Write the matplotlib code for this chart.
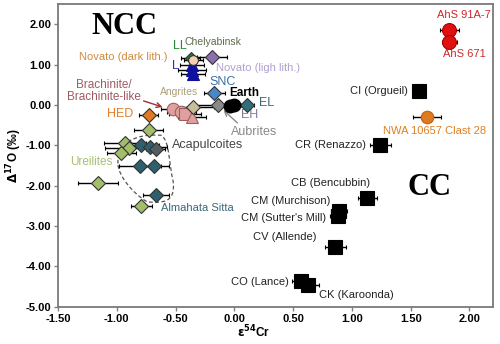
import numpy as np
import matplotlib.pyplot as plt
from matplotlib.path import Path
from matplotlib.patches import PathPatch

# ---- data ----
# carbonaceous chondrites (black squares)
cc_names = ['CI (Orgueil)', 'CR (Renazzo)', 'CB (Bencubbin)', 'CM (Murchison)',
            "CM (Sutter's Mill)", 'CV (Allende)', 'CO (Lance)', 'CK (Karoonda)']
cc_x = [1.57, 1.24, 1.13, 0.89, 0.88, 0.86, 0.57, 0.63]
cc_y = [0.35, -0.98, -2.31, -2.62, -2.76, -3.52, -4.35, -4.47]
cc_err = [0.05, 0.09, 0.08, 0.07, 0.07, 0.09, 0.08, 0.09]

# Almahata Sitta anomalous clasts
ahs_x = [1.83, 1.83]
ahs_y = [1.87, 1.56]
ahs_err = [0.08, 0.06]
nwa_x, nwa_y, nwa_err = [1.64], [-0.29], [0.12]

# non-carbonaceous groups
ureil_x = [-0.93, -0.90, -0.96, -1.16, -0.79, -0.73]
ureil_y = [-0.93, -1.06, -1.20, -1.92, -2.51, -0.62]
ureil_err = [0.18, 0.2, 0.12, 0.17, 0.09, 0.12]
almah_x = [-0.79, -0.72, -0.80, -0.68, -0.67]
almah_y = [-0.98, -1.05, -1.52, -1.52, -2.23]
almah_err = [0.15, 0.15, 0.18, 0.12, 0.11]
acap_x, acap_y, acap_err = [-0.67], [-1.08], [0.08]
hed_x, hed_y, hed_err = [-0.73], [-0.24], [0.08]
brach_x = [-0.52, -0.45, -0.42, -0.36]
brach_y = [-0.10, -0.18, -0.22, -0.30]
brach_m = ['o', 'o', 's', '^']
brach_err = [0.1, 0.12, 0.14, 0.12]
angr_x, angr_y, angr_err = [-0.35], [-0.06], [0.18]
aubr_x, aubr_y, aubr_err = [-0.14], [0.0], [0.2]
earth_x, earth_y = [0.0, -0.04], [0.0, -0.03]
eh_x, eh_y, eh_err = [0.11], [0.0], [0.06]
snc_x, snc_y, snc_err = [-0.17], [0.30], [0.09]
chel_x, chel_y, chel_err = [-0.19], [1.18], [0.13]
ll_x, ll_y = [-0.37], [1.16]
nov_x, nov_y = [-0.35], [1.11]
l_x = [-0.36, -0.36, -0.35]
l_y = [1.00, 0.87, 0.76]
l_err = [0.1, 0.12, 0.1]

x_ticks = [-1.5, -1.0, -0.5, 0.0, 0.5, 1.0, 1.5, 2.0]
y_ticks = [-5, -4, -3, -2, -1, 0, 1, 2]

plt.rc('font', family='Liberation Sans', weight='normal')

fig = plt.figure(figsize=(5.0, 3.44), dpi=100)
ax = fig.add_axes([0.116, 0.108, 0.87, 0.88])

ebk = dict(ecolor='black', elinewidth=1.0, capsize=1.5, capthick=1.0, linestyle='none', zorder=3)

def grp(x, y, err, color, marker='D', ms=7.5, mec='#333333'):
    ax.errorbar(x, y, xerr=err, fmt=marker, mfc=color, mec=mec, mew=0.8, ms=ms, **ebk)

# dashed outline round the Almahata Sitta clasts
verts = [(-0.99, -1.45), (-1.0, -0.95), (-0.85, -0.70), (-0.62, -0.75),
         (-0.55, -0.9), (-0.56, -1.4), (-0.52, -1.9), (-0.50, -2.45),
         (-0.62, -2.42), (-0.74, -2.4), (-0.86, -2.2), (-0.99, -1.75), (-0.99, -1.45)]
codes = [Path.MOVETO] + [Path.CURVE4] * 12
ax.add_patch(PathPatch(Path(verts, codes), fill=False, ls=(0, (3, 2)), lw=0.9,
                       ec='#555555', zorder=1))

grp(ureil_x, ureil_y, ureil_err, '#a3be6b')
grp(almah_x, almah_y, almah_err, '#2f5f6e')
grp(acap_x, acap_y, acap_err, '#555c60')
grp(hed_x, hed_y, hed_err, '#e07a20')
for bx, by, bm, be in zip(brach_x, brach_y, brach_m, brach_err):
    grp([bx], [by], [be], '#e0a0a0', marker=bm, ms=9, mec='#a06060')
grp(angr_x, angr_y, angr_err, '#c8bf9a')
grp(aubr_x, aubr_y, aubr_err, '#8a8a8a')
grp(eh_x, eh_y, eh_err, '#2f6f78')
ax.plot(earth_x, earth_y, 'o', color='black', ms=9, zorder=4)
grp(snc_x, snc_y, snc_err, '#4a86c8')
grp(l_x, l_y, l_err, '#1010a0', marker='^', ms=8, mec='#1010a0')
grp(ll_x, ll_y, [0.08], '#2a7a40', marker='D', ms=6)
grp(nov_x, nov_y, [0.08], '#f4d0b0', marker='o', ms=7)
grp(chel_x, chel_y, chel_err, '#8a70b0')

grp(cc_x, cc_y, cc_err, 'black', marker='s', ms=10, mec='black')
grp(ahs_x, ahs_y, ahs_err, '#e01010', marker='o', ms=10, mec='#b00000')
grp(nwa_x, nwa_y, nwa_err, '#e07a20', marker='o', ms=9, mec='#c06010')

# labels
fs = 8
ax.text(-1.22, 1.95, 'NCC', family='Liberation Serif', weight='bold', fontsize=22, va='center')
ax.text(1.47, -2.05, 'CC', family='Liberation Serif', weight='bold', fontsize=22, va='center')
ax.text(1.95, 2.22, 'AhS 91A-7', color='#d02828', fontsize=fs, ha='center', va='center')
ax.text(1.96, 1.26, 'AhS 671', color='#d02828', fontsize=fs, ha='center', va='center')
ax.text(1.48, 0.35, 'CI (Orgueil)', color='#222222', fontsize=fs, ha='right', va='center')
ax.text(1.70, -0.64, 'NWA 10657 Clast 28', color='#e08020', fontsize=fs, ha='center', va='center')
ax.text(1.12, -0.98, 'CR (Renazzo)', color='#222222', fontsize=fs, ha='right', va='center')
ax.text(0.82, -1.92, 'CB (Bencubbin)', color='#222222', fontsize=fs, ha='center', va='center')
ax.text(0.82, -2.38, 'CM (Murchison)', color='#222222', fontsize=fs, ha='right', va='center')
ax.text(0.78, -2.80, "CM (Sutter's Mill)", color='#222222', fontsize=fs, ha='right', va='center')
ax.text(0.70, -3.27, 'CV (Allende)', color='#222222', fontsize=fs, ha='right', va='center')
ax.text(0.46, -4.38, 'CO (Lance)', color='#222222', fontsize=fs, ha='right', va='center')
ax.text(0.72, -4.70, 'CK (Karoonda)', color='#222222', fontsize=fs, ha='left', va='center')

ax.text(-0.52, 1.47, 'LL', color='#2a8a3a', fontsize=9, ha='left', va='center')
ax.text(-0.42, 1.55, 'Chelyabinsk', color='#5b6b4b', fontsize=7.5, ha='left', va='center')
ax.text(-0.57, 1.19, 'Novato (dark lith.)', color='#d08a40', fontsize=8, ha='right', va='center')
ax.text(-0.53, 0.97, 'L', color='#3030b0', fontsize=9, ha='left', va='center')
ax.text(-0.16, 0.92, 'Novato (ligh lith.)', color='#b0a0d0', fontsize=8, ha='left', va='center')
ax.text(-0.21, 0.58, 'SNC', color='#3a70a8', fontsize=9, ha='left', va='center')
ax.text(-0.47, 0.32, 'Angrites', color='#aaa07a', fontsize=7.5, ha='center', va='center')
ax.text(-0.04, 0.30, 'Earth', color='black', fontsize=8.5, weight='bold', ha='left', va='center')
ax.text(0.21, 0.04, 'EL', color='#3a6a78', fontsize=9, ha='left', va='center')
ax.text(0.06, -0.24, 'EH', color='#8a7a9a', fontsize=9, ha='left', va='center')
ax.annotate('Aubrites', xy=(-0.11, -0.08), xytext=(0.17, -0.66), color='#8a8a8a',
            fontsize=9, ha='center', va='center',
            arrowprops=dict(arrowstyle='->', color='#8a8a8a', lw=1, shrinkA=0, shrinkB=2,
                            relpos=(0.2, 1.0)))
ax.annotate('Brachinite/\nBrachinite-like', xy=(-0.6, -0.06), xytext=(-1.11, 0.35),
            color='#a05a64', fontsize=8.5, ha='center', va='center', linespacing=1.0,
            arrowprops=dict(arrowstyle='->', color='#a03030', lw=1, shrinkA=0, shrinkB=1,
                            relpos=(0.97, 0.15)))
ax.text(-0.86, -0.22, 'HED', color='#e0802a', fontsize=9, ha='right', va='center')
ax.text(-0.53, -0.98, 'Acapulcoites', color='#444444', fontsize=9, ha='left', va='center')
ax.text(-1.22, -1.42, 'Ureilites', color='#a8c070', fontsize=8.5, ha='center', va='center')
ax.text(-0.62, -2.56, 'Almahata Sitta', color='#3a6a7a', fontsize=8, ha='left', va='center')

ax.set_xlim(-1.5, 2.2)
ax.set_ylim(-5, 2.5)
ax.set_xticks(x_ticks)
ax.set_yticks(y_ticks)
ax.set_xticklabels(['%.2f' % v for v in x_ticks], fontweight='bold', fontsize=8)
ax.set_yticklabels(['%.2f' % v for v in y_ticks], fontweight='bold', fontsize=8)
ax.tick_params(length=3, width=1, color='#808080', pad=2)
for sp in ax.spines.values():
    sp.set_color('#7a7a7a')
    sp.set_linewidth(1.3)
ax.set_xlabel(r'$\mathbf{\varepsilon^{54}}$Cr', fontweight='bold', fontsize=8.5)
ax.set_ylabel(r'$\mathbf{\Delta^{17}}$O (‰)', fontweight='bold', fontsize=8.5)
ax.xaxis.set_label_coords(0.45, -0.055)
ax.yaxis.set_label_coords(-0.078, 0.5)

fig.savefig('out.png', dpi=100)
